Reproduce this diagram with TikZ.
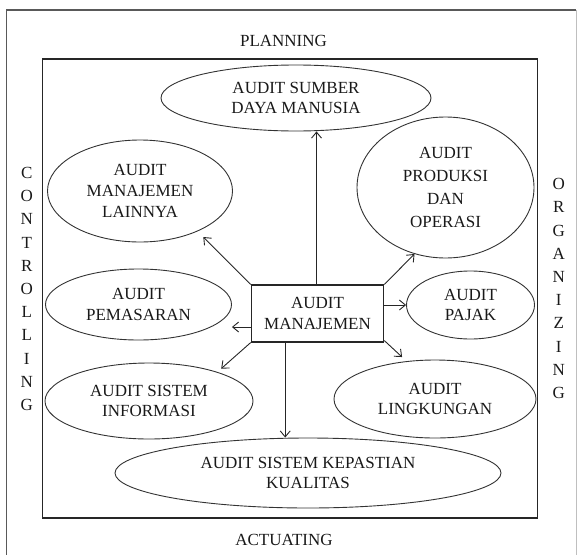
\documentclass[tikz,border=0pt]{standalone}
\usepackage{fontspec}
\setmainfont{Liberation Serif}
\usetikzlibrary{shapes.geometric,arrows.meta}
\tikzset{
  lbl/.style={font=\fontsize{17}{20.8}\selectfont, text=black!90, align=center, inner sep=0pt},
  ell/.style={lbl, ellipse, draw=black!80, line width=0.9pt},
  mainbox/.style={lbl, rectangle, draw=black!85, line width=1.1pt, minimum width=132.5pt, minimum height=57pt},
  arr/.style={draw=black!85, line width=0.9pt, -{Straight Barb[length=6pt,width=10pt]}},
  vert/.style={font=\fontsize{17}{23.2}\selectfont, text=black!90, align=center, inner sep=0pt}
}
\begin{document}
\begin{tikzpicture}[x=1pt,y=-1pt]
\useasboundingbox (0,0) rectangle (577,554);
% frames
\coordinate (fbl) at (6.5,560);
\coordinate (ftl) at (6.5,10);
\coordinate (ftr) at (576,10);
\coordinate (fbr) at (576,560);
\draw[black!65, line width=1.6pt] (fbl) -- (ftl) -- (ftr);
\draw[black!25, line width=1pt] (ftr) -- (fbr);
\node[draw=black!85, line width=1.1pt, minimum width=495pt, minimum height=459pt, inner sep=0pt] (inner) at (289.65,288.5) {};
% side labels
\node[lbl] (plan) at (283.5,41) {PLANNING};
\node[lbl] (act) at (284,540) {ACTUATING};
\node[vert] (ctrl) at (26.7,289) {C\\O\\N\\T\\R\\O\\L\\L\\I\\N\\G};
\node[vert] (org) at (558.7,288.5) {O\\R\\G\\A\\N\\I\\Z\\I\\N\\G};
% nodes
\node[mainbox] (box) at (317.5,313.5) {AUDIT\\MANAJEMEN};
\node[ell, minimum width=270pt, minimum height=66pt] (sumber) at (296,98) {AUDIT SUMBER\\DAYA MANUSIA};
\node[ell, minimum width=185pt, minimum height=102pt] (lainnya) at (140,191) {AUDIT\\MANAJEMEN\\LAINNYA};
\node[ell, minimum width=177pt, minimum height=141pt, font=\fontsize{17}{23}\selectfont] (produksi) at (445.5,187.5) {AUDIT\\PRODUKSI\\DAN\\OPERASI};
\node[ell, minimum width=186pt, minimum height=71pt] (pemasaran) at (138.5,304.5) {AUDIT\\PEMASARAN};
\node[ell, minimum width=128pt, minimum height=68pt] (pajak) at (470.5,305) {AUDIT\\PAJAK};
\node[ell, minimum width=208pt, minimum height=76pt] (informasi) at (149,401) {AUDIT SISTEM\\INFORMASI};
\node[ell, minimum width=202pt, minimum height=78pt] (lingkungan) at (435,399) {AUDIT\\LINGKUNGAN};
\node[ell, minimum width=386pt, minimum height=70pt] (kepastian) at (308,473) {AUDIT SISTEM KEPASTIAN\\KUALITAS};
% arrows
\draw[arr] ([xshift=-1pt]box.north) -- ([xshift=-1pt]box.north |- sumber.south);
\draw[arr, shorten >=8pt] (box.north west) -- (lainnya.-35);
\draw[arr] ([yshift=-13.5pt]box.west) -- ([yshift=-22.5pt]pemasaran.east);
\draw[arr, shorten >=5pt] (box.south west) -- (informasi.23);
\draw[arr] (box.north east) -- (produksi.-115);
\draw[arr] (box.east |- pajak.west) -- (pajak.west);
\draw[arr, shorten >=6pt] ([yshift=2pt]box.south east) -- (lingkungan.127);
\draw[arr] ([xshift=-32.3pt]box.south) -- ([xshift=-32.3pt]box.south |- kepastian.north);
\end{tikzpicture}
\end{document}
